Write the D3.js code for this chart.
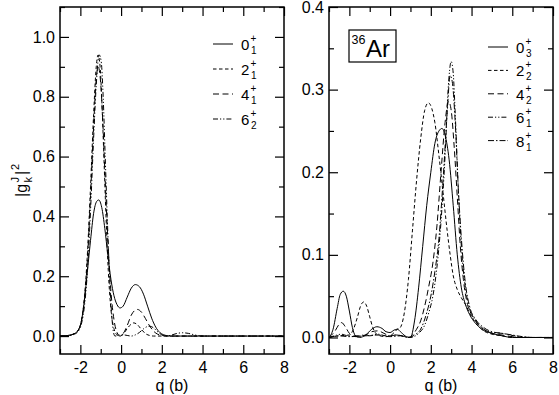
<!DOCTYPE html>
<html>
<head>
<meta charset="utf-8">
<script src="https://cdn.jsdelivr.net/npm/d3@7"></script>
<style>
body{margin:0;background:#fff;}
svg{display:block;}
text{font-family:"Liberation Sans",Arial,sans-serif;fill:#000;}
</style>
</head>
<body>
<svg id="chart" width="559" height="395"></svg>
<script>
// ---- data: [q, |g|^2] ----
const xTicks = [-2,0,2,4,6,8];

// left panel
const L_0_1 = [[-3,0],[-2.6,0.002],[-2.3,0.008],[-2.1,0.02],[-1.95,0.05],[-1.8,0.12],[-1.65,0.22],[-1.5,0.32],[-1.35,0.41],[-1.2,0.45],[-1.1,0.455],[-0.95,0.43],[-0.8,0.36],[-0.65,0.27],[-0.5,0.19],[-0.35,0.135],[-0.2,0.105],[-0.05,0.094],[0.1,0.1],[0.3,0.13],[0.5,0.16],[0.7,0.172],[0.9,0.165],[1.1,0.14],[1.3,0.1],[1.5,0.06],[1.7,0.03],[1.9,0.012],[2.1,0.004],[2.4,0],[8,0]];
const L_2_1 = [[-3,0],[-2.6,0.002],[-2.3,0.008],[-2.1,0.02],[-1.95,0.05],[-1.8,0.13],[-1.65,0.28],[-1.5,0.5],[-1.35,0.74],[-1.22,0.9],[-1.13,0.94],[-1.03,0.9],[-0.93,0.76],[-0.83,0.57],[-0.73,0.38],[-0.63,0.22],[-0.5,0.09],[-0.35,0.025],[-0.2,0.004],[-0.05,0],[0.1,0.006],[0.3,0.025],[0.5,0.04],[0.62,0.044],[0.8,0.038],[1.0,0.022],[1.2,0.008],[1.4,0.002],[1.6,0],[8,0]];
const L_4_1 = [[-3,0],[-2.6,0.002],[-2.3,0.008],[-2.1,0.02],[-1.95,0.05],[-1.8,0.12],[-1.65,0.26],[-1.5,0.47],[-1.35,0.7],[-1.22,0.86],[-1.12,0.9],[-1.02,0.86],[-0.9,0.72],[-0.78,0.52],[-0.65,0.32],[-0.5,0.15],[-0.35,0.055],[-0.2,0.012],[-0.05,0],[0.1,0.008],[0.3,0.035],[0.5,0.07],[0.7,0.087],[0.8,0.089],[1.0,0.08],[1.2,0.058],[1.4,0.034],[1.6,0.016],[1.8,0.006],[2.0,0.002],[2.3,0],[8,0]];
const L_6_2 = [[-3,0],[-2.6,0.001],[-2.3,0.006],[-2.1,0.016],[-1.95,0.04],[-1.8,0.1],[-1.65,0.22],[-1.5,0.42],[-1.35,0.66],[-1.2,0.86],[-1.08,0.94],[-0.98,0.92],[-0.88,0.8],[-0.78,0.6],[-0.68,0.4],[-0.58,0.22],[-0.48,0.09],[-0.38,0.015],[-0.3,0],[-0.1,0.003],[0.1,0.004],[0.3,0.002],[0.5,0],[0.7,0.004],[0.9,0.012],[1.1,0.024],[1.3,0.032],[1.42,0.033],[1.6,0.027],[1.8,0.014],[2.0,0.004],[2.15,0],[2.4,0.002],[2.7,0.008],[3.0,0.011],[3.3,0.009],[3.6,0.004],[4.0,0],[8,0]];

// right panel
const R_0_3 = [[-3,0],[-2.8,0.01],[-2.6,0.035],[-2.45,0.052],[-2.3,0.056],[-2.15,0.05],[-2.0,0.032],[-1.85,0.012],[-1.7,0.002],[-1.5,0],[-1.2,0.003],[-0.9,0.01],[-0.65,0.013],[-0.4,0.011],[-0.2,0.007],[0,0.006],[0.2,0.009],[0.35,0.01],[0.55,0.006],[0.8,0.001],[1.0,0],[1.2,0.02],[1.4,0.06],[1.6,0.11],[1.8,0.16],[2.0,0.2],[2.2,0.235],[2.4,0.25],[2.55,0.253],[2.7,0.245],[2.9,0.215],[3.1,0.16],[3.3,0.1],[3.5,0.06],[3.7,0.04],[3.9,0.028],[4.2,0.017],[4.5,0.01],[5.0,0.005],[5.5,0.002],[6,0],[8,0]];
const R_2_2 = [[-3,0],[-2.5,0.002],[-2.0,0.003],[-1.8,0.01],[-1.6,0.025],[-1.45,0.038],[-1.3,0.043],[-1.15,0.038],[-1.0,0.025],[-0.85,0.012],[-0.7,0.005],[-0.5,0.002],[-0.2,0.001],[0,0.002],[0.2,0.006],[0.35,0.01],[0.5,0.012],[0.7,0.03],[0.9,0.07],[1.1,0.13],[1.3,0.19],[1.5,0.24],[1.7,0.275],[1.88,0.284],[2.05,0.277],[2.2,0.26],[2.4,0.22],[2.6,0.175],[2.8,0.13],[2.95,0.1],[3.1,0.075],[3.3,0.058],[3.5,0.048],[3.7,0.04],[4.0,0.025],[4.3,0.015],[4.6,0.008],[5.0,0.004],[5.5,0.002],[6,0],[8,0]];
const R_4_2 = [[-3,0],[-2.7,0.008],[-2.5,0.016],[-2.38,0.018],[-2.2,0.013],[-2.0,0.005],[-1.8,0.002],[-1.5,0.002],[-1.2,0.003],[-0.9,0.007],[-0.6,0.008],[-0.3,0.005],[0,0.002],[0.3,0.003],[0.6,0.002],[0.9,0],[1.1,0.003],[1.3,0.01],[1.5,0.02],[1.7,0.038],[1.9,0.062],[2.1,0.09],[2.3,0.135],[2.5,0.2],[2.7,0.26],[2.87,0.286],[3.0,0.275],[3.15,0.23],[3.3,0.17],[3.45,0.11],[3.6,0.07],[3.8,0.04],[4.0,0.028],[4.3,0.017],[4.6,0.01],[5.0,0.005],[5.5,0.003],[6,0.001],[6.5,0],[8,0]];
const R_6_1 = [[-3,0],[-2.6,0.003],[-2.4,0.004],[-2.1,0.002],[-1.6,0.001],[-1.3,0.003],[-1.0,0.002],[-0.6,0.004],[-0.2,0.002],[0.3,0.003],[0.7,0.001],[1.0,0],[1.4,0.005],[1.7,0.015],[1.9,0.03],[2.1,0.05],[2.3,0.085],[2.5,0.14],[2.7,0.22],[2.85,0.3],[3.0,0.334],[3.1,0.32],[3.2,0.27],[3.35,0.18],[3.5,0.11],[3.7,0.06],[3.9,0.035],[4.2,0.02],[4.6,0.01],[5.0,0.006],[5.5,0.005],[5.9,0.003],[6.3,0.001],[7,0],[8,0]];
const R_8_1 = [[-3,0],[-2.5,0.002],[-2.0,0.001],[-1.2,0.002],[-0.6,0.003],[0,0.001],[0.5,0.002],[0.9,0],[1.2,0.003],[1.5,0.01],[1.8,0.03],[2.0,0.05],[2.2,0.08],[2.4,0.12],[2.6,0.19],[2.8,0.27],[2.95,0.317],[3.05,0.31],[3.2,0.26],[3.35,0.18],[3.5,0.12],[3.7,0.065],[3.9,0.038],[4.2,0.022],[4.6,0.012],[5.0,0.007],[5.5,0.005],[6.0,0.003],[6.5,0.001],[7,0],[8,0]];

const leftLabels = [["0","1"],["2","1"],["4","1"],["6","2"]];
const rightLabels = [["0","3"],["2","2"],["4","2"],["6","1"],["8","1"]];
const leftYTicks = [0,0.2,0.4,0.6,0.8,1.0];
const rightYTicks = [0,0.1,0.2,0.3,0.4];

// line styles
const dashes = {
	solid: null,
	short: "3.5,2.5",
	long: "6,3.5",
	dashdotdot: "5,2,1.2,2,1.2,2",
	dashdot: "6,2,1.5,2"
};

const svg = d3.select("#chart");

function panel(x0, x1, y0, y1, yDomain, yMajor, yMinorStep, series, styles, labels, legX, legY, legStep){
	const x = d3.scaleLinear().domain([-3,8]).range([x0,x1]);
	const y = d3.scaleLinear().domain(yDomain).range([y1,y0]);
	const g = svg.append("g");
	const xMinor = d3.range(-3,8.01,1).filter(function(v){return xTicks.indexOf(v) < 0;});
	const yMinor = d3.range(0,yDomain[1]+1e-9,yMinorStep).filter(function(v){
		return yMajor.every(function(m){return Math.abs(m-v) > 1e-6;});
	});

	// major ticks with labels (plain hyphen for negatives, as in the figure)
	g.append("g").attr("transform","translate(0,"+y1+")")
		.call(d3.axisBottom(x).tickValues(xTicks).tickSize(-9).tickPadding(8).tickFormat(function(d){return String(d);}));
	g.append("g").attr("transform","translate("+x0+",0)")
		.call(d3.axisLeft(y).tickValues(yMajor).tickSize(-9).tickPadding(5).tickFormat(d3.format(".1f")));
	// mirrored + minor ticks
	g.append("g").attr("transform","translate(0,"+y0+")")
		.call(d3.axisTop(x).tickValues(xTicks).tickSize(-9).tickFormat(""));
	g.append("g").attr("transform","translate("+x1+",0)")
		.call(d3.axisRight(y).tickValues(yMajor).tickSize(-9).tickFormat(""));
	g.append("g").attr("transform","translate(0,"+y1+")")
		.call(d3.axisBottom(x).tickValues(xMinor).tickSize(-5).tickFormat(""));
	g.append("g").attr("transform","translate(0,"+y0+")")
		.call(d3.axisTop(x).tickValues(xMinor).tickSize(-5).tickFormat(""));
	g.append("g").attr("transform","translate("+x0+",0)")
		.call(d3.axisLeft(y).tickValues(yMinor).tickSize(-5).tickFormat(""));
	g.append("g").attr("transform","translate("+x1+",0)")
		.call(d3.axisRight(y).tickValues(yMinor).tickSize(-5).tickFormat(""));

	g.selectAll(".domain").remove();
	g.selectAll(".tick line").attr("stroke","#000").attr("stroke-width",1.2);
	g.selectAll(".tick text").attr("font-size",16).attr("font-family","Liberation Sans, Arial, sans-serif").attr("fill","#000");

	const clipId = "clip" + x0;
	svg.append("clipPath").attr("id",clipId).append("rect")
		.attr("x",x0).attr("y",y0).attr("width",x1-x0).attr("height",y1-y0);

	const line = d3.line()
		.x(function(d){return x(d[0]);})
		.y(function(d){return y(d[1]);})
		.curve(d3.curveMonotoneX);

	const curves = g.append("g").attr("clip-path","url(#"+clipId+")");
	for(var i = 0; i < series.length; i++){
		curves.append("path")
			.attr("d",line(series[i]))
			.attr("fill","none")
			.attr("stroke","#000")
			.attr("stroke-width",1)
			.attr("stroke-dasharray",dashes[styles[i]]);
	}

	// legend
	for(var i = 0; i < labels.length; i++){
		let ly = legY + i*legStep;
		g.append("line")
			.attr("x1",legX).attr("x2",legX+20)
			.attr("y1",ly).attr("y2",ly)
			.attr("stroke","#000").attr("stroke-width",1)
			.attr("stroke-dasharray",dashes[styles[i]]);
		g.append("text").attr("x",legX+28).attr("y",ly+6).attr("font-size",15).text(labels[i][0]);
		g.append("text").attr("x",legX+37.5).attr("y",ly-2).attr("font-size",10).text("+");
		g.append("text").attr("x",legX+38).attr("y",ly+10).attr("font-size",10).text(labels[i][1]);
	}

	// frame
	g.append("rect")
		.attr("x",x0).attr("y",y0).attr("width",x1-x0).attr("height",y1-y0)
		.attr("fill","none").attr("stroke","#000").attr("stroke-width",1.5);

	g.append("text")
		.attr("x",(x0+x1)/2).attr("y",391)
		.attr("text-anchor","middle").attr("font-size",16)
		.text("q (b)");
	return g;
}

panel(60,284,7,354,[-0.06,1.1],leftYTicks,0.1,
	[L_0_1,L_2_1,L_4_1,L_6_2],["solid","short","long","dashdotdot"],leftLabels,213,44,25);
panel(329,553,7,354,[-0.02,0.4],rightYTicks,0.05,
	[R_0_3,R_2_2,R_4_2,R_6_1,R_8_1],["solid","short","long","dashdotdot","dashdot"],rightLabels,488,47,23.4);

// 36Ar box
svg.append("rect").attr("x",349).attr("y",30).attr("width",47).attr("height",32)
	.attr("fill","#fff").attr("stroke","#000").attr("stroke-width",1.2);
svg.append("text").attr("x",351.5).attr("y",44).attr("font-size",12.5).text("36");
svg.append("text").attr("x",366).attr("y",57).attr("font-size",24).text("Ar");

// y axis title |g_k^J|^2
const yt = svg.append("g").attr("transform","translate(27,197) rotate(-90)");
yt.append("text").attr("x",0).attr("y",0).attr("font-size",16).text("|g");
yt.append("text").attr("x",14.5).attr("y",5).attr("font-size",11).text("k");
yt.append("text").attr("x",14.5).attr("y",-8).attr("font-size",11).text("J");
yt.append("text").attr("x",22).attr("y",0).attr("font-size",16).text("|");
yt.append("text").attr("x",27).attr("y",-8).attr("font-size",11).text("2");
</script>
</body>
</html>
